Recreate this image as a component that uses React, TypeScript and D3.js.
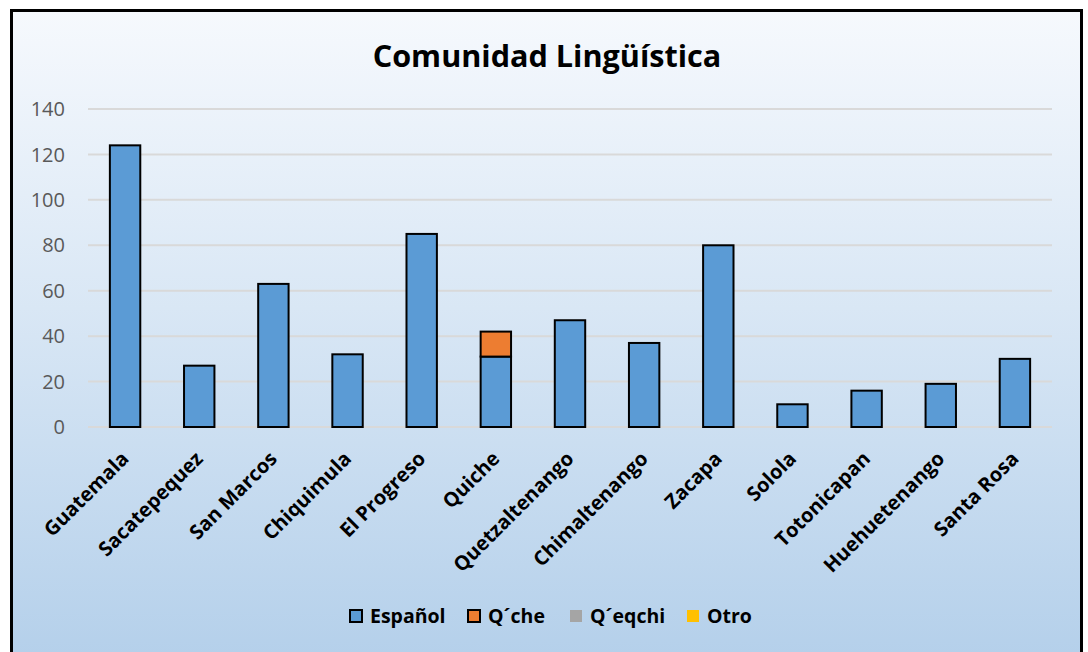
import * as d3 from 'd3';
import React from 'react';

const categories = [
  'Guatemala',
  'Sacatepequez',
  'San Marcos',
  'Chiquimula',
  'El Progreso',
  'Quiche',
  'Quetzaltenango',
  'Chimaltenango',
  'Zacapa',
  'Solola',
  'Totonicapan',
  'Huehuetenango',
  'Santa Rosa',
];
const espanol = [124, 27, 63, 32, 85, 31, 47, 37, 80, 10, 16, 19, 30];
const quiche = [0, 0, 0, 0, 0, 11, 0, 0, 0, 0, 0, 0, 0];
const qeqchi = [0, 0, 0, 0, 0, 0, 0, 0, 0, 0, 0, 0, 0];
const otro = [0, 0, 0, 0, 0, 0, 0, 0, 0, 0, 0, 0, 0];
const seriesNames = ['Español', 'Q´che', 'Q´eqchi', 'Otro'];
const seriesColors = ['#5b9bd5', '#ed7d31', '#a5a5a5', '#ffc000'];
const yTicks = [0, 20, 40, 60, 80, 100, 120, 140];

const W = 1088;
const H = 652;
const margin = { top: 109, right: 36, bottom: 225, left: 88 };
const font = '"Open Sans", Lato, sans-serif';

export default function App() {
  const innerW = W - margin.left - margin.right;
  const innerH = H - margin.top - margin.bottom;

  const x = d3.scaleBand<string>().domain(categories).range([0, innerW]).paddingInner(0.59).paddingOuter(0.295);
  const y = d3.scaleLinear().domain([0, 140]).range([innerH, 0]);

  const rows = categories.map((c, i) => ({
    cat: c,
    s0: espanol[i],
    s1: quiche[i],
    s2: qeqchi[i],
    s3: otro[i],
  }));
  const stacked = d3.stack<any>().keys(['s0', 's1', 's2', 's3'])(rows);

  const legendX = [350, 468, 570, 687];

  return (
    <svg
      width={W}
      height={H}
      style={{ position: 'absolute', left: 0, top: 0, display: 'block', background: '#fff' }}
    >
      <defs>
        <linearGradient id="bg" x1="0" y1="0" x2="0" y2="1">
          <stop offset="0%" stopColor="#f6f9fd" />
          <stop offset="45%" stopColor="#d9e7f5" />
          <stop offset="100%" stopColor="#b3cfea" />
        </linearGradient>
      </defs>
      <rect x={11.5} y={10.5} width={1070} height={660} fill="url(#bg)" stroke="#000" strokeWidth={3} />
      <text
        x={547}
        y={67}
        textAnchor="middle"
        fontFamily={font}
        fontWeight="bold"
        fontSize={30.6}
        fill="#000"
      >
        Comunidad Lingüística
      </text>
      <g transform={`translate(${margin.left},${margin.top})`}>
        {yTicks.map((t) => (
          <g key={t}>
            <line x1={0} x2={innerW} y1={y(t)} y2={y(t)} stroke="#d9d9d9" strokeWidth={2} />
            <text
              x={-23}
              y={y(t)}
              dy="0.36em"
              textAnchor="end"
              fontFamily={font}
              fontSize={20}
              fill="#595959"
            >
              {t}
            </text>
          </g>
        ))}
        {stacked.map((layer, si) => (
          <g key={si}>
            {layer.map((d, i) =>
              d[1] - d[0] > 0 ? (
                <rect
                  key={i}
                  x={x(categories[i])!}
                  width={x.bandwidth()}
                  y={y(d[1])}
                  height={y(d[0]) - y(d[1])}
                  fill={seriesColors[si]}
                  stroke="#000"
                  strokeWidth={2}
                />
              ) : null,
            )}
          </g>
        ))}
        {categories.map((c) => (
          <text
            key={c}
            transform={`translate(${x(c)! + x.bandwidth() / 2 + 5},${innerH + 33}) rotate(-45)`}
            textAnchor="end"
            fontFamily={font}
            fontWeight="bold"
            fontSize={20}
            fill="#000"
          >
            {c}
          </text>
        ))}
      </g>
      {seriesNames.map((n, i) => (
        <g key={n}>
          <rect
            x={legendX[i]}
            y={610}
            width={12}
            height={12}
            fill={seriesColors[i]}
            stroke={i < 2 ? '#000' : 'none'}
            strokeWidth={2}
          />
          <text x={legendX[i] + 20} y={623} fontFamily={font} fontWeight="bold" fontSize={19.5} fill="#000">
            {n}
          </text>
        </g>
      ))}
    </svg>
  );
}
